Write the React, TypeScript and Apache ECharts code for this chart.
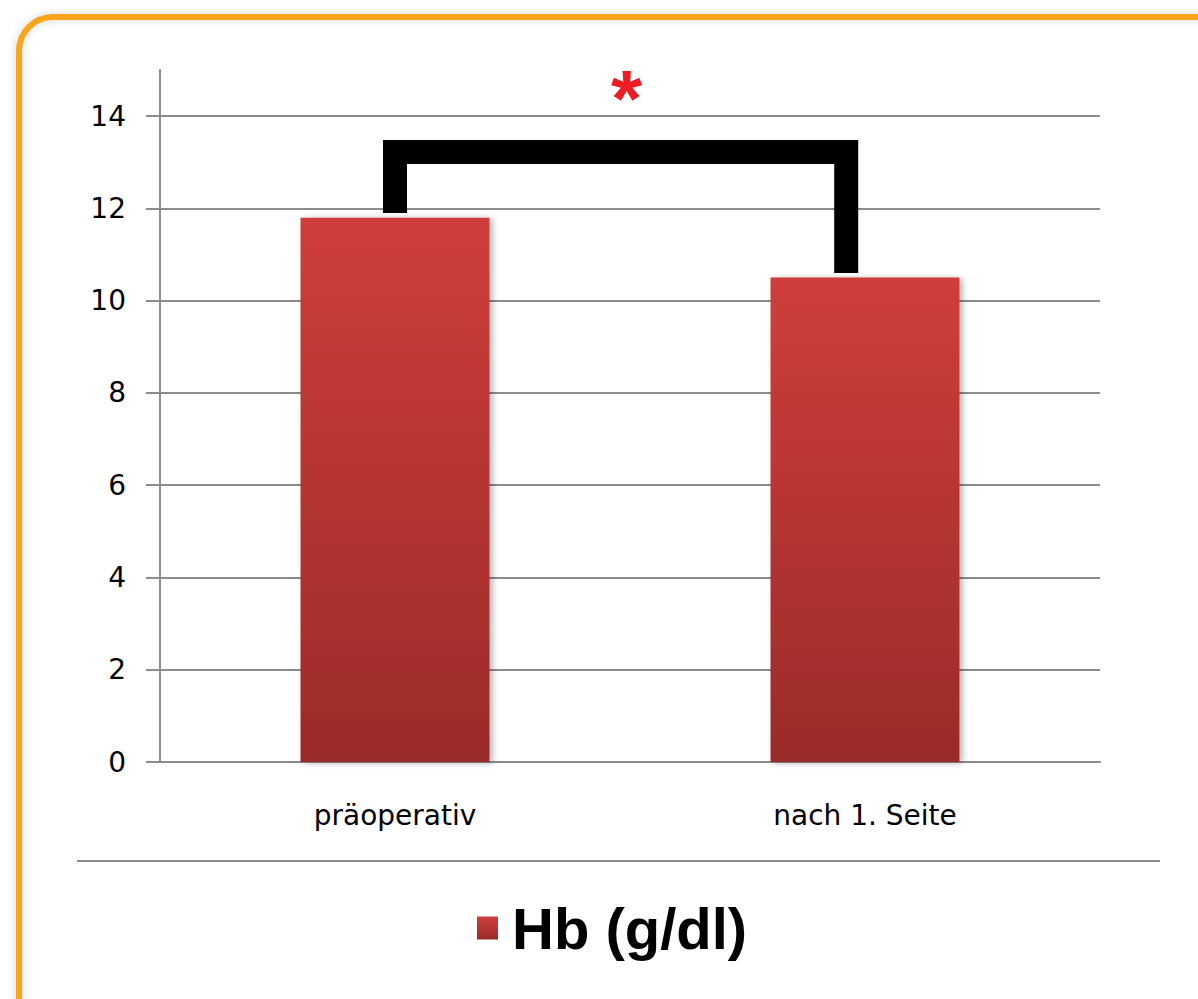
import React, { useEffect, useRef } from "react";
import * as echarts from "echarts";

const categories = ["präoperativ", "nach 1. Seite"];
const hbValues = [11.8, 10.5];
const seriesName = "Hb (g/dl)";
const yTicks = [0, 2, 4, 6, 8, 10, 12, 14];
// significance bracket: [leftCategory, rightCategory, bracketTop, leftLegBottom, rightLegBottom, starY]
const bracket = [[0, 1, 13.22, 11.9, 10.6, 14.38]];
const starLabel = "*";

const barGradient = () =>
  new echarts.graphic.LinearGradient(0, 0, 0, 1, [
    { offset: 0, color: "#CF3E3A" },
    { offset: 1, color: "#9A2B2A" },
  ]);

export default function App() {
  const ref = useRef<HTMLDivElement>(null);
  useEffect(() => {
    if (!ref.current) return;
    const chart = echarts.init(ref.current, undefined, { renderer: "svg" });
    chart.setOption({
      animation: false,
      backgroundColor: "#ffffff",
      grid: { left: 160, right: 98, top: 70, bottom: 237, containLabel: false },
      legend: {
        data: [seriesName],
        left: 477,
        top: 898,
        padding: 0,
        icon: "rect",
        itemWidth: 21,
        itemHeight: 23,
        textStyle: {
          fontFamily: "Liberation Sans",
          fontWeight: "bold",
          fontSize: 58,
          color: "#000",
          padding: [0, 0, 0, 9],
          lineHeight: 60,
        },
      },
      xAxis: {
        type: "category",
        data: categories,
        axisLine: { lineStyle: { color: "#8C8C8C", width: 2 } },
        axisTick: { length: 12, lineStyle: { color: "#8C8C8C", width: 2 } },
        axisLabel: {
          margin: 39,
          fontFamily: "DejaVu Sans",
          fontSize: 28,
          color: "#000",
        },
      },
      yAxis: {
        type: "value",
        min: 0,
        max: 15,
        interval: 1,
        axisLine: { show: true, lineStyle: { color: "#8C8C8C", width: 2 } },
        axisTick: {
          show: true,
          length: 14,
          customValues: yTicks,
          lineStyle: { color: "#8C8C8C", width: 2 },
        },
        axisLabel: {
          customValues: yTicks,
          margin: 34,
          fontFamily: "DejaVu Sans",
          fontSize: 28,
          color: "#000",
        },
        splitLine: { show: true, lineStyle: { color: "#8C8C8C", width: 2 } },
      },
      graphic: [
        {
          type: "rect",
          shape: { x: 19, y: 17, width: 1260, height: 1060, r: 34 },
          style: {
            fill: "none",
            stroke: "#F8A51B",
            lineWidth: 6,
            shadowBlur: 8,
            shadowColor: "rgba(0,0,0,0.18)",
          },
          z: -10,
          silent: true,
        },
        {
          type: "line",
          shape: { x1: 77, y1: 861, x2: 1160, y2: 861 },
          style: { stroke: "#8C8C8C", lineWidth: 2 },
          silent: true,
        },
      ],
      series: [
        {
          name: seriesName,
          type: "bar",
          data: hbValues,
          barWidth: "40.2%",
          itemStyle: {
            color: barGradient(),
            shadowColor: "rgba(0,0,0,0.3)",
            shadowBlur: 6,
            shadowOffsetX: 3,
            shadowOffsetY: 1,
          },
        },
        {
          name: "sig",
          type: "custom",
          data: bracket,
          z: 5,
          renderItem: (params: any, api: any) => {
            const lc = api.value(0);
            const rc = api.value(1);
            const top = api.value(2);
            const lb = api.value(3);
            const rb = api.value(4);
            const sy = api.value(5);
            const band = api.size([1, 0])[0];
            const xl = api.coord([lc, top])[0];
            const xr = api.coord([rc, top])[0] - band * 0.04;
            const yt = api.coord([lc, top])[1];
            const yl = api.coord([lc, lb])[1];
            const yr = api.coord([rc, rb])[1];
            const ys = api.coord([lc, sy])[1];
            return {
              type: "group",
              children: [
                {
                  type: "polyline",
                  shape: {
                    points: [
                      [xl, yl],
                      [xl, yt],
                      [xr, yt],
                      [xr, yr],
                    ],
                  },
                  style: {
                    stroke: "#000",
                    lineWidth: 24,
                    fill: "none",
                    lineJoin: "miter",
                    lineCap: "butt",
                  },
                },
                {
                  type: "text",
                  x: (xl + xr) / 2 + 6,
                  y: ys,
                  style: {
                    text: starLabel,
                    fill: "#ED1C24",
                    font: "bold 80px Liberation Sans",
                    textAlign: "center",
                    textVerticalAlign: "middle",
                  },
                },
              ],
            };
          },
        },
      ],
    });
    return () => chart.dispose();
  }, []);
  return (
    <div
      ref={ref}
      style={{ position: "absolute", left: 0, top: 0, width: 1198, height: 999 }}
    />
  );
}
